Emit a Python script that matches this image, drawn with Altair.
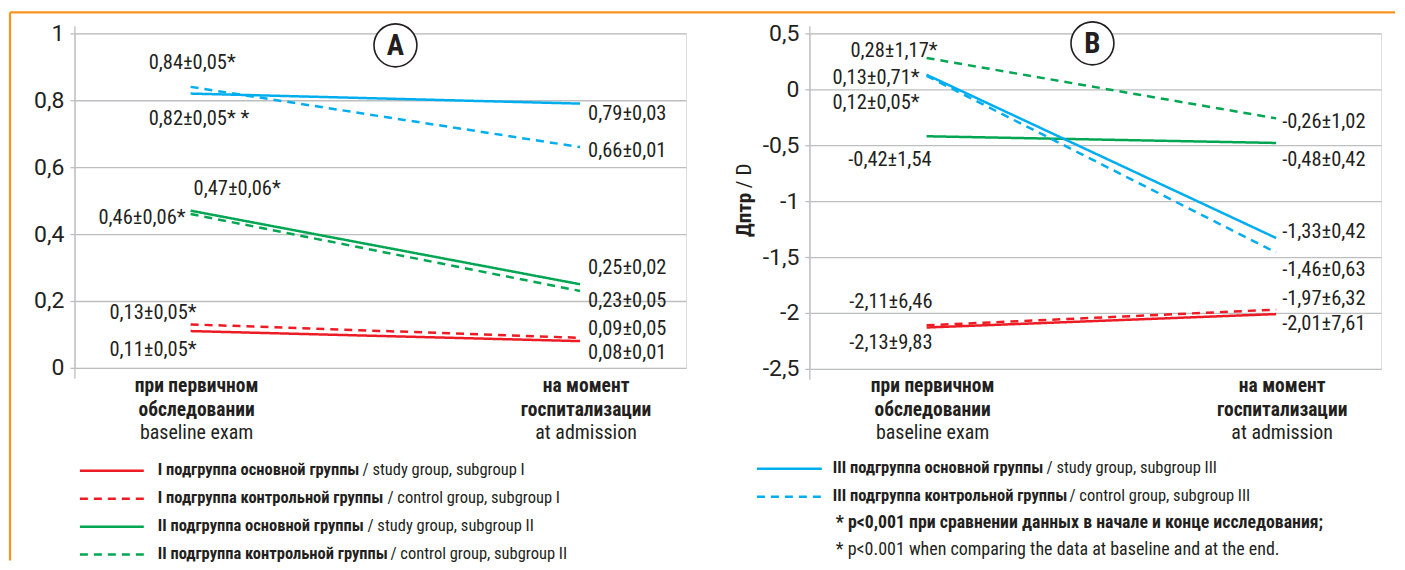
import altair as alt
import pandas as pd

FONT = "Liberation Sans Narrow, Roboto Condensed, Arial Narrow, Roboto, sans-serif"
TICK_FONT = "Roboto, Liberation Sans, sans-serif"
TXT = "#231f20"
RED, GREEN, BLUE = "#ed1c24", "#00a651", "#00aeef"
ORANGE = "#f7941d"
GRID = "#bcbec0"

# ---------------- data ----------------
time_points = [0, 1]
cat_ru = ["при первичном\nобследовании", "на момент\nгоспитализации"]
cat_en = ["baseline exam", "at admission"]

series = ["I study", "I control", "II study", "II control", "III study", "III control"]
series_kind = ["study", "control", "study", "control", "study", "control"]
series_colors = [RED, RED, GREEN, GREEN, BLUE, BLUE]

a_baseline = [0.11, 0.13, 0.47, 0.46, 0.82, 0.84]
a_admission = [0.08, 0.09, 0.25, 0.23, 0.79, 0.66]
a_lab_base = ["0,11±0,05*", "0,13±0,05*", "0,47±0,06*", "0,46±0,06*", "0,82±0,05* *", "0,84±0,05*"]
a_lab_adm = ["0,08±0,01", "0,09±0,05", "0,25±0,02", "0,23±0,05", "0,79±0,03", "0,66±0,01"]

b_baseline = [-2.13, -2.11, -0.42, 0.28, 0.13, 0.12]
b_admission = [-2.01, -1.97, -0.48, -0.26, -1.33, -1.46]
b_lab_base = ["-2,13±9,83", "-2,11±6,46", "-0,42±1,54", "0,28±1,17*", "0,13±0,71*", "0,12±0,05*"]
b_lab_adm = ["-2,01±7,61", "-1,97±6,32", "-0,48±0,42", "-0,26±1,02", "-1,33±0,42", "-1,46±0,63"]

a_ticks = [0, 0.2, 0.4, 0.6, 0.8, 1]
b_ticks = [-2.5, -2, -1.5, -1, -0.5, 0, 0.5]

legend_ru_A = ["I подгруппа основной группы", "I подгруппа контрольной группы",
               "II подгруппа основной группы", "II подгруппа контрольной группы"]
legend_en_A = ["/ study group, subgroup I", "/ control group, subgroup I",
               "/ study group, subgroup II", "/ control group, subgroup II"]
legend_ru_B = ["III подгруппа основной группы", "III подгруппа контрольной группы"]
legend_en_B = ["/ study group, subgroup III", "/ control group, subgroup III"]
note_ru = "* p<0,001 при сравнении данных в начале и конце исследования;"
note_en = "* p<0.001 when comparing the data at baseline and at the end."
y_title_ru = "Дптр"
y_title_en = "/ D"

# ---------------- layout (pixel offsets) ----------------
# (align, dx, dy) per series, baseline and admission labels
a_off_base = [("right", 6, 19), ("right", 6, -11), ("left", 3, -22),
              ("right", -5, 4), ("left", -42, 25), ("left", -42, -24)]
a_off_adm = [("left", 8, 12), ("left", 8, -9), ("left", 8, -16),
             ("left", 8, 10), ("left", 8, 10), ("left", 8, 4)]
b_off_base = [("right", 6, 16), ("right", 6, -23), ("right", 5, 24),
              ("right", 11, -7), ("right", -7, 3), ("right", -7, 27)]
b_off_adm = [("left", 6, 10), ("left", 6, -11), ("left", 6, 17),
             ("left", 6, 4), ("left", 6, -6), ("left", 6, 17)]

one = pd.DataFrame({"k": [0]})


def vtext(text, x, y, size, bold=False, align="left", angle=None, color=TXT, line_height=None):
    props = dict(align=align, baseline="middle", fontSize=size,
                 fontWeight="bold" if bold else "normal", color=color, font=FONT)
    if angle is not None:
        props["angle"] = angle
    if line_height:
        props["lineBreak"] = "\n"
        props["lineHeight"] = line_height
    return alt.Chart(pd.DataFrame({"txt": [text]})).mark_text(**props).encode(
        x=alt.value(x), y=alt.value(y), text="txt:N")


def vrule(x, y, x2=None, y2=None, color=GRID, width=1.3, dash=None):
    enc = dict(x=alt.value(x), y=alt.value(y))
    if x2 is not None:
        enc["x2"] = alt.value(x2)
    if y2 is not None:
        enc["y2"] = alt.value(y2)
    props = dict(color=color, strokeWidth=width)
    if dash:
        props["strokeDash"] = dash
    return alt.Chart(one).mark_rule(**props).encode(**enc)


def panel(base_vals, adm_vals, lab_base, lab_adm, off_base, off_adm,
          ydom, yticks, xdom, width, height, letter, letter_xy):
    rows = []
    for i, s in enumerate(series):
        rows.append({"series": s, "kind": series_kind[i], "t": time_points[0], "v": base_vals[i]})
        rows.append({"series": s, "kind": series_kind[i], "t": time_points[1], "v": adm_vals[i]})
    df = pd.DataFrame(rows)

    X = alt.X("t:Q", scale=alt.Scale(domain=xdom, nice=False, zero=False), axis=None)
    yaxis = alt.Axis(values=yticks, labelExpr="replace(toString(datum.value), '.', ',')",
                     grid=True, gridColor=GRID, gridWidth=1.3, domain=False,
                     tickColor=GRID, tickWidth=1.3, tickSize=5, labelFontSize=23,
                     labelColor=TXT, labelFont=TICK_FONT, labelPadding=6, title=None)
    Y = alt.Y("v:Q", scale=alt.Scale(domain=ydom, nice=False, zero=False), axis=yaxis)

    layers = [vrule(0, -7, y2=height + 11)]
    lines = alt.Chart(df).mark_line(strokeWidth=2.5).encode(
        x=X, y=Y,
        color=alt.Color("series:N", scale=alt.Scale(domain=series, range=series_colors), legend=None),
        strokeDash=alt.StrokeDash("kind:N", scale=alt.Scale(domain=["study", "control"],
                                                            range=[[1, 0], [8, 6]]), legend=None),
        detail="series:N")
    layers.append(lines)

    for vals, labs, offs, tp in [(base_vals, lab_base, off_base, time_points[0]),
                                 (adm_vals, lab_adm, off_adm, time_points[1])]:
        for v, lab, (al, dx, dy) in zip(vals, labs, offs):
            d = pd.DataFrame({"t": [tp], "v": [v], "txt": [lab]})
            layers.append(alt.Chart(d).mark_text(align=al, baseline="middle", dx=dx, dy=dy,
                                                 fontSize=20.5, color=TXT, font=FONT).encode(
                x=X, y=Y, text="txt:N"))

    # category labels
    cdf = pd.DataFrame({"t": time_points, "ru": cat_ru, "en": cat_en})
    layers.append(alt.Chart(cdf).mark_text(align="center", baseline="middle", dx=6, fontSize=19.5,
                                           fontWeight="bold", color=TXT, font=FONT,
                                           lineBreak="\n", lineHeight=24).encode(
        x=X, y=alt.value(353), text="ru:N"))
    layers.append(alt.Chart(cdf).mark_text(align="center", baseline="middle", dx=6, fontSize=20,
                                           color=TXT, font=FONT).encode(
        x=X, y=alt.value(400), text="en:N"))

    # circled letter
    lx, ly = letter_xy
    layers.append(alt.Chart(one).mark_point(shape="circle", size=1850, filled=True, fill="white",
                                            stroke=TXT, strokeWidth=1.6, opacity=1).encode(
        x=alt.value(lx), y=alt.value(ly)))
    layers.append(vtext(letter, lx, ly + 1, 29, bold=True, align="center"))
    return layers


left_layers = panel(a_baseline, a_admission, a_lab_base, a_lab_adm, a_off_base, a_off_adm,
                    [0, 1], a_ticks, [-0.297, 1.272], 612, 335, "A", (321, 12))
right_layers = panel(b_baseline, b_admission, b_lab_base, b_lab_adm, b_off_base, b_off_adm,
                     [-2.5, 0.5], b_ticks, [-0.334, 1.300], 572, 336, "B", (283, 10))

# legend, left
leg_y_A = [437, 465, 493, 521]
leg_x_en_A = [288, 313, 293, 316]
for i in range(4):
    col = RED if i < 2 else GREEN
    dash = None if i % 2 == 0 else [8, 6]
    left_layers.append(vrule(5, leg_y_A[i] + 1, x2=69, color=col, width=2.5, dash=dash))
    left_layers.append(vtext(legend_ru_A[i], 83, leg_y_A[i], 16.5, bold=True))
    left_layers.append(vtext(legend_en_A[i], leg_x_en_A[i], leg_y_A[i], 16.5))

# frame (top and left orange lines)
left_layers.append(vrule(-65, -21, x2=1322, color=ORANGE, width=2.2))
left_layers.append(vrule(-65, -21, y2=528, color=ORANGE, width=2.2))

# legend, right
leg_y_B = [435, 463]
leg_x_en_B = [237, 260]
for i in range(2):
    dash = None if i == 0 else [8, 6]
    right_layers.append(vrule(-53, leg_y_B[i] + 1, x2=12, color=BLUE, width=2.5, dash=dash))
    right_layers.append(vtext(legend_ru_B[i], 23, leg_y_B[i], 16.5, bold=True))
    right_layers.append(vtext(legend_en_B[i], leg_x_en_B[i], leg_y_B[i], 16.5))
right_layers.append(vtext(note_ru, 26, 490, 17.8, bold=True))
right_layers.append(vtext(note_en, 26, 517, 18))

# y title, right panel
right_layers.append(vtext(y_title_ru, -65, 204, 21, bold=True, align="left", angle=270))
right_layers.append(vtext(y_title_en, -65, 155, 21, align="left", angle=270))

left = alt.layer(*left_layers).properties(width=612, height=335)
right = alt.layer(*right_layers).properties(width=572, height=336)

chart = alt.hconcat(left, right, spacing=124, bounds="flush",
                    padding={"left": 0, "top": 2, "right": 0, "bottom": 0}
                    ).configure_view(stroke=None).configure(font=FONT)

chart.save("out.html", embed_options={"renderer": "svg", "actions": False})
